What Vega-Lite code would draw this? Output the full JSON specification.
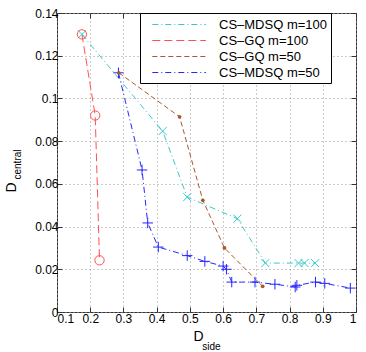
{
  "$schema": "https://vega.github.io/schema/vega-lite/v6.json",
  "autosize": {"type": "none"},
  "width": 299,
  "height": 299,
  "padding": {"left": 57, "top": 13, "right": 10, "bottom": 40},
  "background": "white",
  "config": {
    "font": "Liberation Sans",
    "view": {"stroke": "#333", "strokeWidth": 1}
  },
  "data": {"values": [
    {"s": "CS–MDSQ m=100", "i": 1, "x": 0.175, "y": 0.130},
    {"s": "CS–MDSQ m=100", "i": 2, "x": 0.418, "y": 0.0847},
    {"s": "CS–MDSQ m=100", "i": 3, "x": 0.492, "y": 0.0538},
    {"s": "CS–MDSQ m=100", "i": 4, "x": 0.643, "y": 0.0437},
    {"s": "CS–MDSQ m=100", "i": 5, "x": 0.727, "y": 0.0229},
    {"s": "CS–MDSQ m=100", "i": 6, "x": 0.827, "y": 0.0229},
    {"s": "CS–MDSQ m=100", "i": 7, "x": 0.845, "y": 0.0229},
    {"s": "CS–MDSQ m=100", "i": 8, "x": 0.877, "y": 0.0229},
    {"s": "CS–GQ m=100", "i": 1, "x": 0.175, "y": 0.130},
    {"s": "CS–GQ m=100", "i": 2, "x": 0.215, "y": 0.092},
    {"s": "CS–GQ m=100", "i": 3, "x": 0.228, "y": 0.0242},
    {"s": "CS–GQ m=50", "i": 1, "x": 0.286, "y": 0.112},
    {"s": "CS–GQ m=50", "i": 2, "x": 0.469, "y": 0.0914},
    {"s": "CS–GQ m=50", "i": 3, "x": 0.539, "y": 0.0523},
    {"s": "CS–GQ m=50", "i": 4, "x": 0.604, "y": 0.030},
    {"s": "CS–GQ m=50", "i": 5, "x": 0.719, "y": 0.012},
    {"s": "CS–MDSQ m=50", "i": 1, "x": 0.285, "y": 0.112},
    {"s": "CS–MDSQ m=50", "i": 2, "x": 0.356, "y": 0.0665},
    {"s": "CS–MDSQ m=50", "i": 3, "x": 0.373, "y": 0.0417},
    {"s": "CS–MDSQ m=50", "i": 4, "x": 0.405, "y": 0.0304},
    {"s": "CS–MDSQ m=50", "i": 5, "x": 0.492, "y": 0.0264},
    {"s": "CS–MDSQ m=50", "i": 6, "x": 0.545, "y": 0.0237},
    {"s": "CS–MDSQ m=50", "i": 7, "x": 0.600, "y": 0.0215},
    {"s": "CS–MDSQ m=50", "i": 8, "x": 0.610, "y": 0.020},
    {"s": "CS–MDSQ m=50", "i": 9, "x": 0.626, "y": 0.014},
    {"s": "CS–MDSQ m=50", "i": 10, "x": 0.696, "y": 0.014},
    {"s": "CS–MDSQ m=50", "i": 11, "x": 0.756, "y": 0.013},
    {"s": "CS–MDSQ m=50", "i": 12, "x": 0.817, "y": 0.0117},
    {"s": "CS–MDSQ m=50", "i": 13, "x": 0.822, "y": 0.0125},
    {"s": "CS–MDSQ m=50", "i": 14, "x": 0.878, "y": 0.014},
    {"s": "CS–MDSQ m=50", "i": 15, "x": 0.906, "y": 0.0134},
    {"s": "CS–MDSQ m=50", "i": 16, "x": 0.983, "y": 0.0112}
  ]},
  "resolve": {"axis": {"x": "independent", "y": "independent"}},
  "layer": [
    {
      "mark": {"type": "line", "strokeWidth": 1},
      "encoding": {
        "x": {"field": "x", "type": "quantitative",
          "scale": {"domain": [0.1, 1], "nice": false, "zero": false},
          "axis": {"orient": "bottom", "values": [0.1,0.2,0.3,0.4,0.5,0.6,0.7,0.8,0.9,1], "format": "~g",
            "grid": true, "gridDash": [1, 3], "gridColor": "#999", "domain": false,
            "tickSize": -5, "tickColor": "#333", "labelFontSize": 12, "labelColor": "#000", "labelPadding": 6,
            "title": "D", "titleFontSize": 14, "titleFontWeight": "normal", "titleColor": "#000",
            "titleX": 141, "titleY": 28, "titleBaseline": "alphabetic", "titleAlign": "center"}},
        "y": {"field": "y", "type": "quantitative",
          "scale": {"domain": [0, 0.14], "nice": false, "zero": false},
          "axis": {"orient": "left", "values": [0,0.02,0.04,0.06,0.08,0.1,0.12,0.14], "format": "~g",
            "grid": true, "gridDash": [1, 3], "gridColor": "#999", "domain": false,
            "tickSize": -5, "tickColor": "#333", "labelFontSize": 12, "labelColor": "#000", "labelPadding": 4,
            "title": "D", "titleFontSize": 14, "titleFontWeight": "normal", "titleColor": "#000",
            "titleX": -42, "titleY": 174, "titleBaseline": "alphabetic", "titleAlign": "center", "titleAngle": -90}},
        "order": {"field": "i", "type": "quantitative"},
        "color": {"field": "s", "type": "nominal",
          "scale": {"domain": ["CS–MDSQ m=100", "CS–GQ m=100", "CS–GQ m=50", "CS–MDSQ m=50"],
            "range": ["#3cc8c8", "#ff5050", "#a8582c", "#2626ff"]},
          "legend": {"title": null, "orient": "none", "legendX": 83, "legendY": 0,
            "symbolType": "M0.1,0L6.8,0", "symbolSize": 256, "symbolStrokeWidth": 1, "labelOffset": 59,
            "labelFontSize": 13, "labelColor": "#000", "padding": 3, "rowPadding": 0,
            "strokeColor": "#000", "fillColor": "#fff"}},
        "strokeDash": {"field": "s", "type": "nominal",
          "scale": {"domain": ["CS–MDSQ m=100", "CS–GQ m=100", "CS–GQ m=50", "CS–MDSQ m=50"],
            "range": [[6, 3, 1, 3], [8, 4], [5, 3], [6, 3, 1, 3]]},
          "legend": {"title": null, "orient": "none", "legendX": 83, "legendY": 0,
            "symbolType": "M0.1,0L6.8,0", "symbolSize": 256, "symbolStrokeWidth": 1, "labelOffset": 59,
            "labelFontSize": 13, "labelColor": "#000", "padding": 3, "rowPadding": 0,
            "strokeColor": "#000", "fillColor": "#fff"}}
      }
    },
    {
      "transform": [{"filter": "datum.s != 'CS–GQ m=50'"}],
      "mark": {"type": "point", "filled": false, "strokeWidth": 1, "opacity": 1},
      "encoding": {
        "x": {"field": "x", "type": "quantitative",
          "axis": {"orient": "top", "values": [0.1,0.2,0.3,0.4,0.5,0.6,0.7,0.8,0.9,1], "labels": false,
            "grid": false, "domain": false, "tickSize": -5, "tickColor": "#333", "title": null}},
        "y": {"field": "y", "type": "quantitative",
          "axis": {"orient": "right", "values": [0,0.02,0.04,0.06,0.08,0.1,0.12,0.14], "labels": false,
            "grid": false, "domain": false, "tickSize": -5, "tickColor": "#333", "title": null}},
        "stroke": {"field": "s", "type": "nominal", "legend": null,
          "scale": {"domain": ["CS–MDSQ m=100", "CS–GQ m=100", "CS–GQ m=50", "CS–MDSQ m=50"],
            "range": ["#3cc8c8", "#ff5050", "#a8582c", "#2626ff"]}},
        "shape": {"field": "s", "type": "nominal", "legend": null,
          "scale": {"domain": ["CS–MDSQ m=100", "CS–GQ m=100", "CS–MDSQ m=50"],
            "range": ["M-1,-1L1,1M-1,1L1,-1", "circle", "M-1,0L1,0M0,-1L0,1"]}},
        "size": {"field": "s", "type": "nominal", "legend": null,
          "scale": {"domain": ["CS–MDSQ m=100", "CS–GQ m=100", "CS–MDSQ m=50"],
            "range": [64, 110, 100]}}
      }
    },
    {
      "transform": [{"filter": "datum.s == 'CS–GQ m=50'"}],
      "mark": {"type": "circle", "size": 14, "opacity": 1, "color": "#a8582c"},
      "encoding": {
        "x": {"field": "x", "type": "quantitative",
          "axis": {"orient": "bottom", "labels": false, "ticks": false, "grid": false, "domain": false,
            "title": "side", "titleFontSize": 10, "titleFontWeight": "normal", "titleColor": "#000",
            "titleX": 154, "titleY": 37, "titleBaseline": "alphabetic", "titleAlign": "center"}},
        "y": {"field": "y", "type": "quantitative",
          "axis": {"orient": "left", "labels": false, "ticks": false, "grid": false, "domain": false,
            "title": "central", "titleFontSize": 10, "titleFontWeight": "normal", "titleColor": "#000",
            "titleX": -37, "titleY": 151, "titleBaseline": "alphabetic", "titleAlign": "center", "titleAngle": -90}}
      }
    }
  ]
}
